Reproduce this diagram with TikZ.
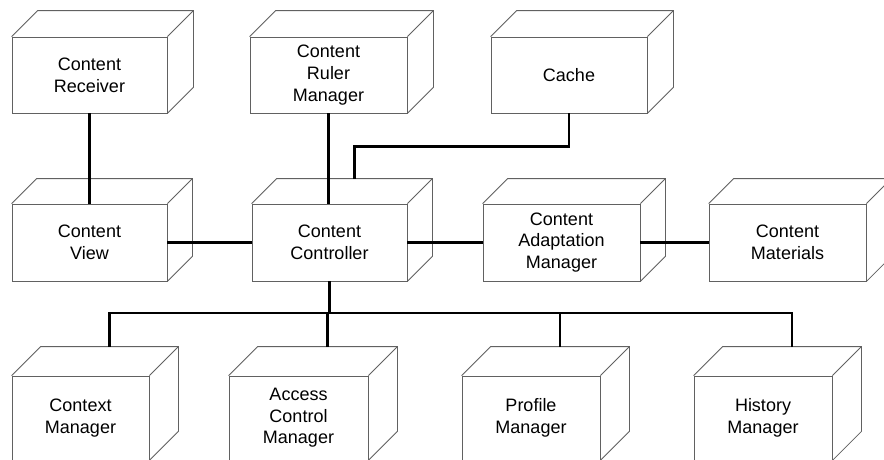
\documentclass[tikz,border=0pt]{standalone}
\usepackage{fontspec}
\setmainfont{Liberation Sans}
\usetikzlibrary{calc}
\tikzset{
  face/.style={draw=black!62, line width=0.8pt, fill=white, inner sep=0pt,
    align=center, font=\fontsize{18}{21.6}\selectfont},
  edge/.style={draw=black!62, line width=0.8pt, line join=miter},
  wire/.style={draw=black, line width=2.2pt},
}
% \cubenode{name}{left}{top}{width}{height}{depth}{label}
% front face as a node, top and side faces drawn from its anchors,
% and (name-back) at the middle of the back top edge
\newcommand\cubenode[7]{%
  \node[face, minimum width=#4pt, minimum height=#5pt] (#1) at (#2+#4/2, #3+#5/2) {#7};
  \draw[edge] (#1.north west) -- ++(#6,-#6) -- ($(#1.north east)+(#6,-#6)$)
    -- ($(#1.south east)+(#6,-#6)$) -- (#1.south east);
  \draw[edge] (#1.north east) -- ++(#6,-#6);
  \coordinate (#1-back) at ($(#1.north)+(#6,-#6)$);
}
\begin{document}
\begin{tikzpicture}[x=1pt, y=-1pt]
  \clip (0,0) rectangle (884,459);
  \fill[white] (0,0) rectangle (884,459);

  % top row
  \cubenode{receiver}{12}{37}{155}{76}{26}{Content\\Receiver}
  \cubenode{ruler}{250}{37}{157}{76}{26}{Content\\Ruler\\Manager}
  \cubenode{cache}{491}{37}{156}{76}{26}{Cache}

  % middle row
  \cubenode{view}{12}{204}{155}{77}{25}{Content\\View}
  \cubenode{ctrl}{252}{204}{155}{77}{25}{Content\\Controller}
  \cubenode{adapt}{483}{204}{157}{77}{25}{Content\\Adaptation\\Manager}
  \cubenode{mat}{709}{204}{157}{77}{25}{Content\\Materials}

  % bottom row
  \cubenode{context}{12}{376}{137}{84}{29}{Context\\Manager}
  \cubenode{access}{229}{376}{139}{84}{29}{Access\\Control\\Manager}
  \cubenode{profile}{462}{376}{138}{84}{29}{Profile\\Manager}
  \cubenode{history}{694}{376}{138}{84}{29}{History\\Manager}

  % connectors
  \coordinate (bus) at (0,313);
  \draw[wire] (receiver.south) -- (receiver.south |- view.north);
  \draw[wire] (ruler.south) -- (ruler.south |- ctrl.north);
  \draw[wire] (cache.south) -- ++(0,33) -| (ctrl-back);
  \draw[wire] (view.east) -- (view.east -| ctrl.west);
  \draw[wire] (ctrl.east) -- (ctrl.east -| adapt.west);
  \draw[wire] (adapt.east) -- (adapt.east -| mat.west);
  \draw[wire] (ctrl.south) -- (ctrl.south |- bus);
  \draw[wire] (context-back) -- (context-back |- bus) -| (history-back);
  \draw[wire] (access-back) -- (access-back |- bus);
  \draw[wire] (profile-back) -- (profile-back |- bus);
\end{tikzpicture}
\end{document}
